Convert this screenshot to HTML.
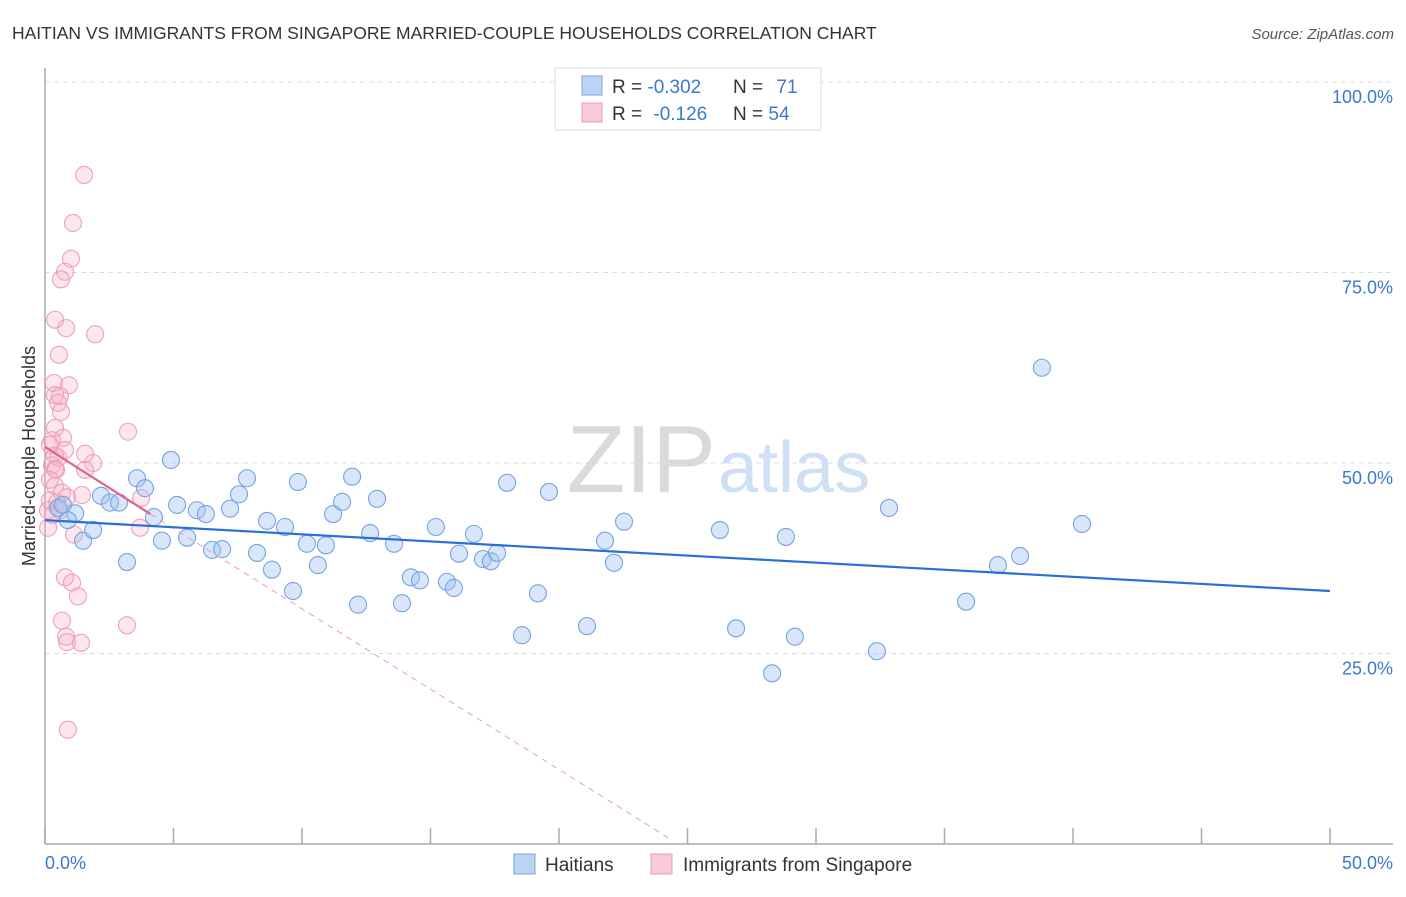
<!DOCTYPE html>
<html><head><meta charset="utf-8"><style>
body{margin:0;background:#fff;font-family:"Liberation Sans",sans-serif;}
svg text{font-family:"Liberation Sans",sans-serif;}
</style></head><body>
<svg width="1406" height="892" viewBox="0 0 1406 892">
<text x="12" y="39" font-size="17.5" fill="#333">HAITIAN VS IMMIGRANTS FROM SINGAPORE MARRIED-COUPLE HOUSEHOLDS CORRELATION CHART</text>
<text x="1394" y="39" font-size="15" fill="#555" text-anchor="end" font-style="italic">Source: ZipAtlas.com</text>
<g id="grid"></g>
<text x="716" y="492" font-size="96" fill="#dadada" text-anchor="end" font-family="Liberation Serif">ZIP</text>
<text x="718" y="492" font-size="72" fill="#cfe0f4">atlas</text>
<line x1="45" y1="68" x2="45" y2="844" stroke="#aaa" stroke-width="1.5"/>
<line x1="45" y1="844" x2="1393" y2="844" stroke="#aaa" stroke-width="1.5"/>
<g id="ticks"></g>
<g id="pink"></g><g id="blue"></g><g id="trends"></g>
<text x="35" y="456" font-size="18" fill="#333" text-anchor="middle" transform="rotate(-90 35 456)">Married-couple Households</text>
<text x="45" y="869" font-size="18" fill="#3b78d0">0.0%</text>
<text x="1393" y="869" font-size="18" fill="#3b78d0" text-anchor="end">50.0%</text>
<g>
<rect x="555" y="68" width="266" height="62" fill="#fff" stroke="#ddd"/>
<rect x="582" y="76" width="20" height="19" fill="#bcd4f4" stroke="#7aa5e0"/>
<rect x="582" y="103" width="20" height="19" fill="#f9c9d7" stroke="#ec9ab4"/>
<text x="612" y="93" font-size="19" fill="#333">R = <tspan fill="#3b78d0">-0.302</tspan></text>
<text x="733" y="93" font-size="19" fill="#333">N = <tspan fill="#3b78d0" dx="8">71</tspan></text>
<text x="612" y="120" font-size="19" fill="#333">R = <tspan fill="#3b78d0" dx="6">-0.126</tspan></text>
<text x="733" y="120" font-size="19" fill="#333">N = <tspan fill="#3b78d0">54</tspan></text>
</g>
<g>
<rect x="514" y="854" width="21" height="20" fill="#bcd4f4" stroke="#7aa5e0"/>
<text x="545" y="871" font-size="19" fill="#333">Haitians</text>
<rect x="651" y="854" width="21" height="20" fill="#f9c9d7" stroke="#ec9ab4"/>
<text x="683" y="871" font-size="19" fill="#333">Immigrants from Singapore</text>
</g>
</svg>
<script>
const yTicks=[25,50,75,100];
const xTickVals=[0,5,10,15,20,25,30,35,40,45,50];
const blueX=[0.51,0.70,1.17,0.89,1.48,1.87,2.18,2.53,2.88,3.19,3.58,3.89,4.24,4.55,4.90,5.14,5.53,5.91,6.26,6.50,6.89,7.20,7.55,7.86,8.25,8.64,8.83,9.34,9.65,9.84,10.19,10.62,10.93,11.21,11.56,11.95,12.18,12.65,12.92,13.58,13.89,14.24,14.59,15.21,15.64,15.91,16.11,16.69,17.04,17.35,17.59,17.98,18.56,19.18,19.61,21.09,21.79,22.14,22.53,26.26,26.89,28.29,28.83,29.18,32.37,32.84,35.84,37.08,37.94,38.79,40.35];
const blueY=[44.1,44.5,43.4,42.5,39.8,41.2,45.7,44.8,44.8,37.0,48.0,46.7,42.9,39.8,50.4,44.5,40.2,43.8,43.3,38.6,38.7,44.0,45.9,48.0,38.2,42.4,36.0,41.6,33.2,47.5,39.4,36.6,39.2,43.3,44.9,48.2,31.4,40.8,45.3,39.4,31.6,35.0,34.6,41.6,34.4,33.6,38.1,40.7,37.4,37.1,38.2,47.4,27.4,32.9,46.2,28.6,39.8,36.9,42.3,41.2,28.3,22.4,40.3,27.2,25.3,44.1,31.8,36.6,37.8,62.5,42.0];
const pinkX=[1.52,1.09,1.01,0.78,0.62,0.39,0.82,1.95,0.54,0.35,0.93,0.39,0.58,0.51,0.62,0.39,3.23,0.70,0.27,1.56,0.39,0.51,1.87,0.27,0.39,0.19,0.39,0.66,1.44,0.86,3.74,0.47,0.12,3.19,3.70,1.13,0.12,0.78,1.05,1.28,0.66,0.82,0.86,1.40,0.89,0.19,0.19,0.31,0.58,0.43,0.78,1.56];
const pinkY=[87.8,81.5,76.8,75.1,74.1,68.8,67.7,66.9,64.2,60.5,60.2,58.9,58.8,57.9,56.7,54.6,54.1,53.3,53.0,51.2,51.0,50.7,50.0,49.7,49.2,47.8,47.0,46.1,45.8,45.5,45.4,44.8,43.8,28.7,41.5,40.6,41.5,35.0,34.3,32.5,29.3,27.2,26.5,26.4,15.0,52.4,45.1,43.2,43.8,49.1,51.7,49.1];
const blueTrend=[[0,42.5],[50,33.2]];
const pinkTrend=[[0,52.1],[4.1,43.3]];
const pinkDash=[[4.1,43.3],[24.4,0.5]];
const NS='http://www.w3.org/2000/svg';
const sx=v=>45+v*25.7, sy=v=>844-v*7.62;
function mk(t,a,p){const e=document.createElementNS(NS,t);for(const k in a)e.setAttribute(k,a[k]);p.appendChild(e);return e;}
const grid=document.getElementById('grid');
yTicks.forEach(t=>{
 const l=mk('line',{x1:45,x2:1393,y1:sy(t),y2:sy(t),stroke:'#ddd','stroke-dasharray':'5,4'},grid);
 
 
 const tx=mk('text',{x:1393,y:sy(t)+21,'font-size':18,fill:'#3b78d0','text-anchor':'end'},grid);
 tx.textContent=t.toFixed(1)+'%';
 
 
});
const ticks=document.getElementById('ticks');
xTickVals.forEach(t=>{
 const l=mk('line',{x1:sx(t),x2:sx(t),y1:828,y2:844,stroke:'#aaa','stroke-width':1.5},ticks);
 
 
});
function dots(xs,ys,g,fill,stroke,name){
 xs.forEach((x,i)=>{
  const c=mk('circle',{cx:sx(x),cy:sy(ys[i]),r:8.5,fill:fill,stroke:stroke,'stroke-width':1.1},g);
  
  
 });
}
dots(pinkX,pinkY,document.getElementById('pink'),'rgba(246,175,200,0.3)','#eea0b8','singapore-point');
dots(blueX,blueY,document.getElementById('blue'),'rgba(160,196,240,0.42)','#76a3e2','haitian-point');
const tr=document.getElementById('trends');
function ln(p,st,w,dash,name){
 const l=mk('line',{x1:sx(p[0][0]),y1:sy(p[0][1]),x2:sx(p[1][0]),y2:sy(p[1][1]),stroke:st,'stroke-width':w},tr);
 if(dash)l.setAttribute('stroke-dasharray',dash);
 
 
}
ln(pinkDash,'#e8a0b8',1,'6,5','singapore-trend-extension');
ln(blueTrend,'#2a6fd6',2.2,null,'haitian-trend-line');
ln(pinkTrend,'#e0628c',2.2,null,'singapore-trend-line');
</script>
</body></html>
